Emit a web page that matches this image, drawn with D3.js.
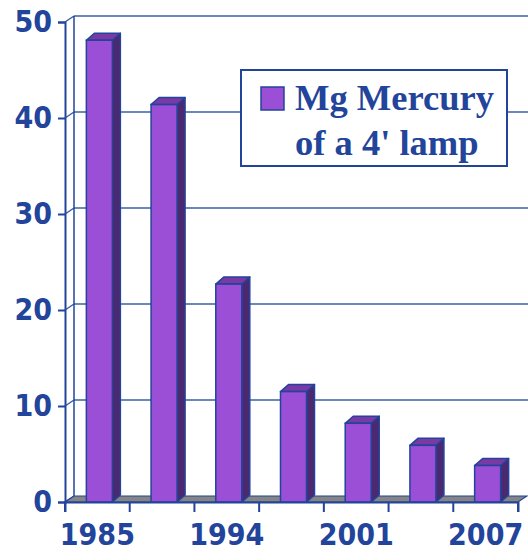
<!DOCTYPE html>
<html>
<head>
<meta charset="utf-8">
<script src="https://cdn.jsdelivr.net/npm/d3@7"></script>
<style>
  body { margin: 0; background: #fff; }
  svg { display: block; }
</style>
</head>
<body>
<svg id="chart"></svg>
<script>
const years = ["1985", "1990", "1994", "1997", "2001", "2004", "2007"];
const shownYears = ["1985", "1994", "2001", "2007"];
const mercury = [48.1, 41.4, 22.7, 11.5, 8.2, 5.9, 3.8];
const yTicks = [0, 10, 20, 30, 40, 50];
const legendLines = ["Mg Mercury", "of a 4' lamp"];

const width = 528;
const height = 560;
const depthX = 9;
const depthY = 6;
const barW = 26;
const barDX = 8;
const barDY = 7;
const blue = "#22449a";
const gridBlue = "#3d5fa8";

const svg = d3.select("#chart")
  .attr("width", width)
  .attr("height", height)
  .attr("viewBox", `0 0 ${width} ${height}`);

const x = d3.scaleBand().domain(years).range([65, 518]).padding(0);
const y = d3.scaleLinear().domain([0, 50]).range([502, 22]);

// back wall gridlines
svg.selectAll("line.grid")
  .data(yTicks.slice(1))
  .join("line")
  .attr("class", "grid")
  .attr("x1", 65 + depthX)
  .attr("x2", width)
  .attr("y1", (d) => y(d) - depthY)
  .attr("y2", (d) => y(d) - depthY)
  .attr("stroke", gridBlue)
  .attr("stroke-width", 1.5);

// side wall diagonals
svg.selectAll("line.side")
  .data(yTicks)
  .join("line")
  .attr("class", "side")
  .attr("x1", 65)
  .attr("y1", (d) => y(d))
  .attr("x2", 65 + depthX)
  .attr("y2", (d) => y(d) - depthY)
  .attr("stroke", gridBlue)
  .attr("stroke-width", 1.5);

// back wall left edge
svg.append("line")
  .attr("x1", 65 + depthX).attr("x2", 65 + depthX)
  .attr("y1", y(50) - depthY).attr("y2", y(0) - depthY)
  .attr("stroke", blue).attr("stroke-width", 1.5);

// floor
const x0 = x.range()[0];
const x1 = x.range()[1];
svg.append("path")
  .attr("d", `M${x0},${y(0)}L${x1},${y(0)}L${x1 + depthX},${y(0) - depthY}L${x0 + depthX},${y(0) - depthY}Z`)
  .attr("fill", "#858585")
  .attr("stroke", blue)
  .attr("stroke-width", 1.2);

// bars
const bars = svg.selectAll("g.bar")
  .data(years.map((yr, i) => ({ yr, v: mercury[i] })))
  .join("g")
  .attr("class", "bar");

const bx = (d) => x(d.yr) + x.bandwidth() / 2 - barW / 2 + 2;

bars.append("path")
  .attr("d", (d) => {
    const l = bx(d) + barW, t = y(d.v), b = y(0);
    return `M${l},${t}L${l + barDX},${t - barDY}L${l + barDX},${b - barDY}L${l},${b}Z`;
  })
  .attr("fill", "#4b2870")
  .attr("stroke", blue)
  .attr("stroke-width", 1.5)
  .attr("stroke-linejoin", "round");

bars.append("path")
  .attr("d", (d) => {
    const l = bx(d), t = y(d.v);
    return `M${l},${t}L${l + barDX},${t - barDY}L${l + barW + barDX},${t - barDY}L${l + barW},${t}Z`;
  })
  .attr("fill", "#7a3aa6")
  .attr("stroke", blue)
  .attr("stroke-width", 1.5)
  .attr("stroke-linejoin", "round");

bars.append("rect")
  .attr("x", bx)
  .attr("y", (d) => y(d.v))
  .attr("width", barW)
  .attr("height", (d) => y(0) - y(d.v))
  .attr("fill", "#9a4fd6")
  .attr("stroke", blue)
  .attr("stroke-width", 1.5);

// axes
const labelFont = "'DejaVu Sans Condensed', 'DejaVu Sans', sans-serif";

const yAxis = svg.append("g")
  .attr("transform", "translate(65,0)")
  .call(d3.axisLeft(y).tickValues(yTicks).tickSize(7).tickPadding(6));
yAxis.select(".domain").attr("stroke", blue).attr("stroke-width", 2);
yAxis.selectAll(".tick line").attr("stroke", blue).attr("stroke-width", 2);
yAxis.selectAll(".tick text")
  .attr("fill", blue)
  .attr("font-family", labelFont)
  .attr("font-weight", "bold")
  .attr("font-size", 30);

const xAxis = svg.append("g")
  .attr("transform", `translate(0,${y(0)})`)
  .call(d3.axisBottom(x).tickSize(10).tickSizeOuter(10).tickPadding(12)
    .tickFormat((d) => shownYears.includes(d) ? d : ""));
xAxis.select(".domain").attr("stroke", blue).attr("stroke-width", 2);
xAxis.selectAll(".tick line")
  .attr("stroke", blue)
  .attr("stroke-width", 2)
  .attr("x1", x.bandwidth() / 2)
  .attr("x2", x.bandwidth() / 2);
xAxis.selectAll(".tick text")
  .attr("fill", blue)
  .attr("font-family", labelFont)
  .attr("font-weight", "bold")
  .attr("font-size", 30);
// extra band-edge tick on the left
xAxis.append("line")
  .attr("x1", x0).attr("x2", x0)
  .attr("y1", 0).attr("y2", 10)
  .attr("stroke", blue).attr("stroke-width", 2);

// legend
const legend = svg.append("g").attr("transform", "translate(241,70)");
legend.append("rect")
  .attr("width", 266)
  .attr("height", 96)
  .attr("fill", "#fff")
  .attr("stroke", blue)
  .attr("stroke-width", 2);
legend.append("rect")
  .attr("x", 20)
  .attr("y", 17)
  .attr("width", 23)
  .attr("height", 23)
  .attr("fill", "#9a4fd6")
  .attr("stroke", blue)
  .attr("stroke-width", 1.5);
legend.selectAll("text")
  .data(legendLines)
  .join("text")
  .attr("x", 54)
  .attr("y", (d, i) => 40 + i * 45)
  .attr("fill", blue)
  .attr("font-family", "'Liberation Serif', 'Times New Roman', serif")
  .attr("font-weight", "bold")
  .attr("font-size", 36.5)
  .text((d) => d);
</script>
</body>
</html>
